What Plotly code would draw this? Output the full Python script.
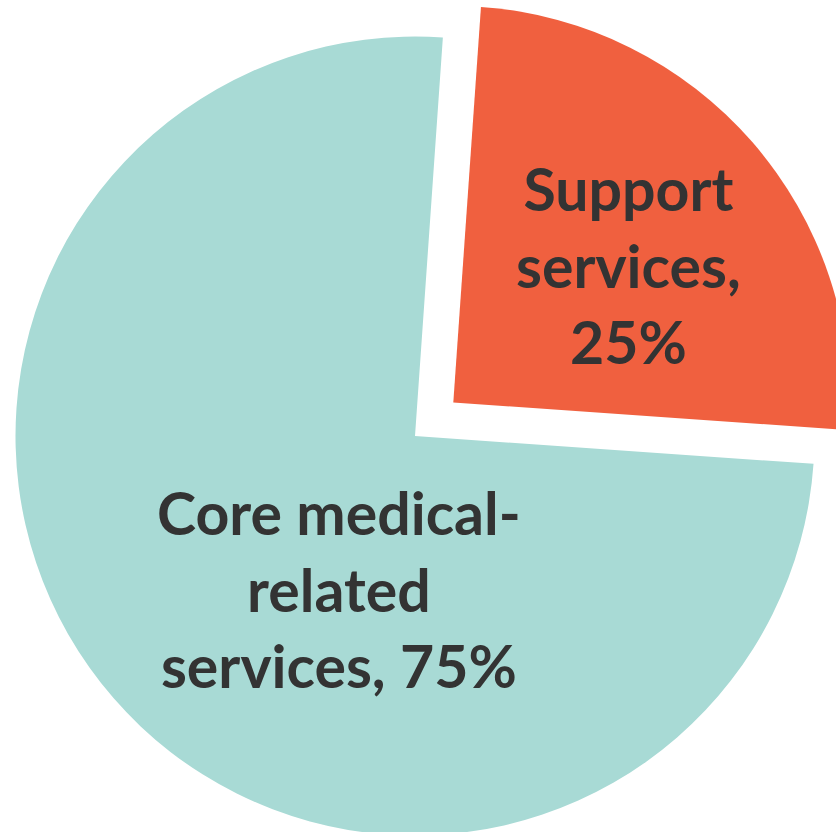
import plotly.graph_objects as go

# ---- data ----
labels = ["Support<br>services", "Core medical-<br>related<br>services"]
values = [25, 75]
separators = [",<br>", ", "]
colors = ["#F0603F", "#A8DAD5"]
transparent = "rgba(0,0,0,0)"

# ---- geometry (pixels) ----
W, H = 870, 840
R_core = 399.5
R_support = 396.5
core_center = (415.0, 436.0)
support_center = (453.3, 402.5)
label_pos = [(628, 265), (339, 589)]


def domain_for(center, R):
    cx, cy = center
    return dict(
        x=[(cx - R) / W, (cx + R) / W],
        y=[(H - (cy + R)) / H, (H - (cy - R)) / H],
    )


fig = go.Figure()

# core slice (support slice transparent)
fig.add_trace(go.Pie(
    labels=labels, values=values, sort=False, direction="clockwise", rotation=4,
    marker=dict(colors=[transparent, colors[1]], line=dict(width=0)),
    textinfo="none", hoverinfo="skip", showlegend=False,
    domain=domain_for(core_center, R_core),
))
# support slice, exploded (core slice transparent)
fig.add_trace(go.Pie(
    labels=labels, values=values, sort=False, direction="clockwise", rotation=4,
    marker=dict(colors=[colors[0], transparent], line=dict(width=0)),
    textinfo="none", hoverinfo="skip", showlegend=False,
    domain=domain_for(support_center, R_support),
))

for lab, val, sep, (px, py) in zip(labels, values, separators, label_pos):
    fig.add_annotation(
        text=f"{lab}{sep}{val}%",
        x=px / W, y=1 - py / H, xref="paper", yref="paper",
        xanchor="center", yanchor="middle", align="center", showarrow=False,
        font=dict(family="Lato", size=59, color="#333333", weight=700),
    )

fig.update_layout(
    width=W, height=H,
    margin=dict(l=0, r=0, t=0, b=0),
    paper_bgcolor="white", plot_bgcolor="white",
    showlegend=False,
)

fig.write_html(
    "out.html",
    post_script="document.documentElement.style.overflow='hidden';"
                "document.body.style.overflow='hidden';"
                "document.body.style.margin='0';",
)
